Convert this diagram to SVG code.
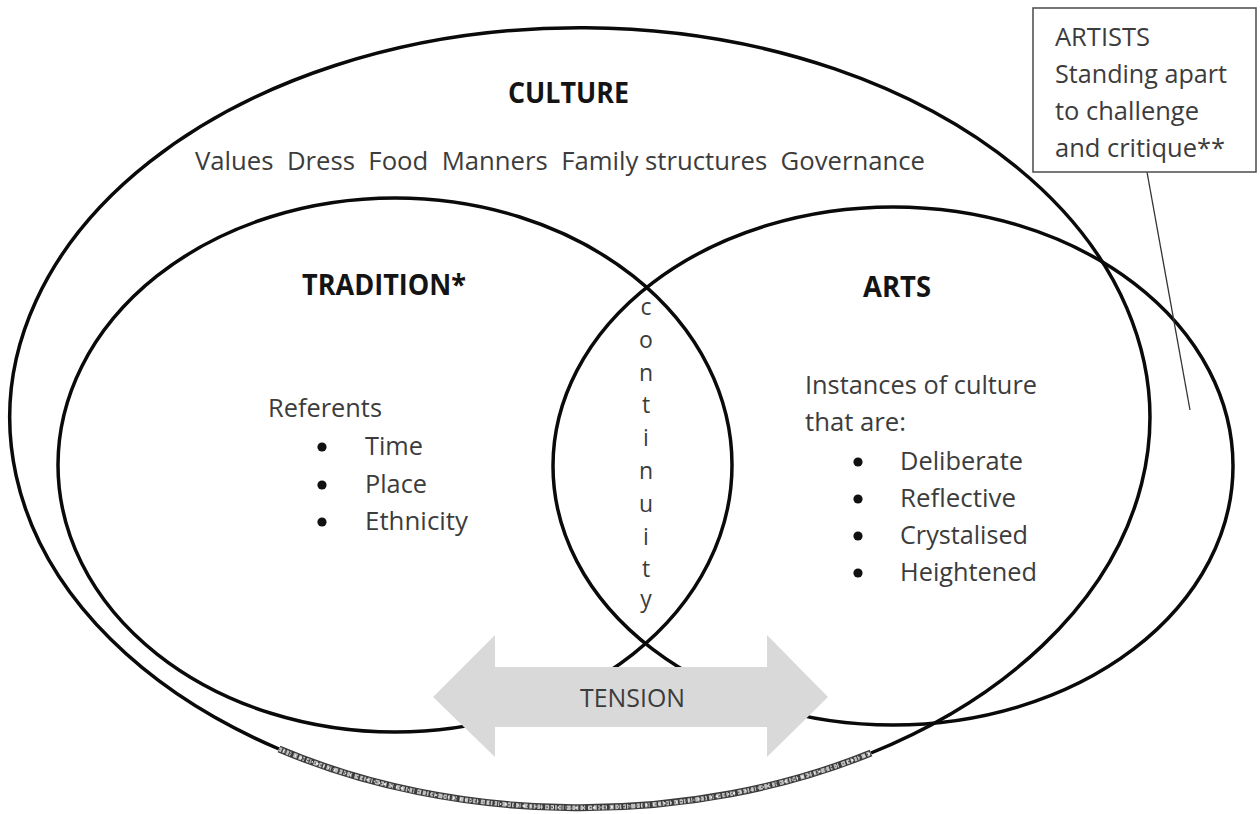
<svg xmlns="http://www.w3.org/2000/svg" width="1260" height="814" viewBox="0 0 1260 814">
<style>
.ring{fill:none;stroke:#0a0a0a;stroke-width:3.5}
.t{font-family:"Open Sans","Noto Sans",sans-serif;font-size:26px;fill:#3c3c3c}
.h{font-family:"Open Sans","Noto Sans",sans-serif;font-size:28px;font-weight:bold;fill:#141414}
.c{font-family:"Open Sans","Noto Sans",sans-serif;font-size:23px;fill:#3c3c3c;text-anchor:middle}
.b{fill:#111}
.tex{fill:none}
</style>
<rect width="1260" height="814" fill="#fff"/>
<g id="culture">
<path class="ring" d="M279,749 A570 390 0 1 1 871,753"/>
<path class="tex" d="M279,749 A570 390 0 0 0 871,753" stroke="#3a3a3a" stroke-width="7"/>
<path class="tex" d="M279,749 A570 390 0 0 0 871,753" stroke="#bdbdbd" stroke-width="4.5" stroke-dasharray="3 1.3 1.7 2.1 2.6 1 1.2 2.9 4.1 1.6"/>
<path class="tex" d="M279,749 A570 390 0 0 0 871,753" stroke="#ededed" stroke-width="2" stroke-dasharray="1.1 3.7 2.3 5.3 0.9 4.3"/>
<path class="tex" d="M279,749 A570 390 0 0 0 871,753" stroke="#555" stroke-width="1.3" stroke-dasharray="1.3 4.7 2.1 3.1 1.7 6.3"/>
<text class="h" x="508" y="103" textLength="121" lengthAdjust="spacingAndGlyphs">CULTURE</text>
<text class="t" x="195" y="170" textLength="730" lengthAdjust="spacingAndGlyphs" xml:space="preserve">Values  Dress  Food  Manners  Family structures  Governance</text>
</g>
<g id="tradition">
<ellipse class="ring" cx="395" cy="465" rx="337" ry="267"/>
<text class="h" x="302" y="295" textLength="164" lengthAdjust="spacingAndGlyphs">TRADITION*</text>
<text class="t" x="268" y="417" textLength="114" lengthAdjust="spacingAndGlyphs">Referents</text>
<circle class="b" cx="322" cy="447" r="4.6"/>
<circle class="b" cx="322" cy="485" r="4.6"/>
<circle class="b" cx="322" cy="522" r="4.6"/>
<text class="t" x="365" y="455" textLength="58" lengthAdjust="spacingAndGlyphs">Time</text>
<text class="t" x="365" y="493" textLength="62" lengthAdjust="spacingAndGlyphs">Place</text>
<text class="t" x="365" y="530" textLength="103" lengthAdjust="spacingAndGlyphs">Ethnicity</text>
</g>
<g id="arts">
<ellipse class="ring" cx="893" cy="466" rx="340" ry="259"/>
<text class="h" x="863" y="297" textLength="68" lengthAdjust="spacingAndGlyphs">ARTS</text>
<text class="t" x="805" y="394" textLength="232" lengthAdjust="spacingAndGlyphs">Instances of culture</text>
<text class="t" x="805" y="431" textLength="101" lengthAdjust="spacingAndGlyphs">that are:</text>
<circle class="b" cx="858" cy="462" r="4.6"/>
<circle class="b" cx="858" cy="499" r="4.6"/>
<circle class="b" cx="858" cy="536" r="4.6"/>
<circle class="b" cx="858" cy="573" r="4.6"/>
<text class="t" x="900" y="470" textLength="123" lengthAdjust="spacingAndGlyphs">Deliberate</text>
<text class="t" x="900" y="507" textLength="116" lengthAdjust="spacingAndGlyphs">Reflective</text>
<text class="t" x="900" y="544" textLength="128" lengthAdjust="spacingAndGlyphs">Crystalised</text>
<text class="t" x="900" y="581" textLength="137" lengthAdjust="spacingAndGlyphs">Heightened</text>
</g>
<g id="continuity">
<text class="c" x="646" y="315"><tspan x="646">c</tspan><tspan x="646" dy="33">o</tspan><tspan x="646" dy="33">n</tspan><tspan x="646" dy="32">t</tspan><tspan x="646" dy="33">i</tspan><tspan x="646" dy="33">n</tspan><tspan x="646" dy="33">u</tspan><tspan x="646" dy="33">i</tspan><tspan x="646" dy="32">t</tspan><tspan x="646" dy="30">y</tspan></text>
</g>
<g id="connectors">
<line x1="1147" y1="172" x2="1190" y2="410" stroke="#333" stroke-width="1.3"/>
</g>
<g id="artists">
<rect x="1033" y="8" width="223" height="164" fill="#fff" stroke="#555" stroke-width="1.6"/>
<text class="t" x="1055" y="46" textLength="95" lengthAdjust="spacingAndGlyphs">ARTISTS</text>
<text class="t" x="1055" y="83" textLength="172" lengthAdjust="spacingAndGlyphs">Standing apart</text>
<text class="t" x="1055" y="120" textLength="144" lengthAdjust="spacingAndGlyphs">to challenge</text>
<text class="t" x="1055" y="157" textLength="170" lengthAdjust="spacingAndGlyphs">and critique**</text>
</g>
<g id="tension">
<polygon points="433,697 495,635 495,667 767,667 767,635 828,697 767,757 767,727 495,727 495,757" fill="#d9d9d9"/>
<text class="t" x="580" y="707" textLength="105" lengthAdjust="spacingAndGlyphs">TENSION</text>
</g>
</svg>
